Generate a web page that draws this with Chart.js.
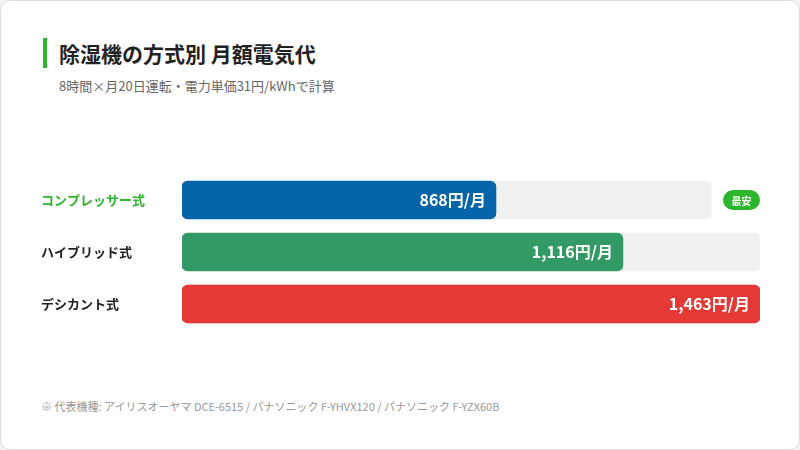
<!DOCTYPE html>
<html><head><meta charset="utf-8">
<script src="https://cdn.jsdelivr.net/npm/chart.js@4/dist/chart.umd.min.js"></script>
<style>
body{margin:0;background:#f3f3f3;font-family:"Noto Sans CJK JP","Noto Sans",sans-serif;}
.card{position:absolute;left:0;top:0;width:798px;height:448px;background:#fff;border:1px solid #ddd;border-radius:10px;}
.title{position:absolute;left:42px;top:37px;border-left:4px solid #2db52d;padding-left:12px;font-size:21px;font-weight:bold;color:#222;line-height:30px;}
.sub{position:absolute;left:58px;top:75px;font-size:13px;color:#666;}
.note{position:absolute;left:40px;top:397px;font-size:11px;color:#999;}
#wrap{position:absolute;left:0;top:173px;width:800px;height:156px;}
</style></head><body>
<div class="card">
<div class="title">除湿機の方式別 月額電気代</div>
<div class="sub">8時間×月20日運転・電力単価31円/kWhで計算</div>
<div class="note">※ 代表機種: アイリスオーヤマ DCE-6515 / パナソニック F-YHVX120 / パナソニック F-YZX60B</div>
<div id="wrap"><canvas id="c"></canvas></div>
</div>
<script>
const categories = ['コンプレッサー式', 'ハイブリッド式', 'デシカント式'];
const costs = [868, 1116, 1463];
const valueLabels = ['868円/月', '1,116円/月', '1,463円/月'];
const barColors = ['#0565a8', '#339a66', '#e53935'];
const labelColors = ['#2db52d', '#222', '#222'];
const maxCost = 1463;
const firstRowMax = 1598; // first track is shortened to leave room for the badge

const labelsPlugin = {
  id: 'labels',
  afterDatasetsDraw(chart) {
    const ctx = chart.ctx, y = chart.scales.y;
    ctx.save();
    ctx.textBaseline = 'middle';
    categories.forEach((c, i) => {
      const yc = y.getPixelForValue(i);
      ctx.font = 'bold 13px "Noto Sans CJK JP"';
      ctx.fillStyle = labelColors[i];
      ctx.textAlign = 'left';
      ctx.fillText(c, 40, yc);
      const sc = i === 0 ? chart.scales.x2 : chart.scales.x;
      const xe = sc.getPixelForValue(costs[i]);
      ctx.font = 'bold 16px "Noto Sans CJK JP"';
      ctx.fillStyle = '#fff';
      ctx.textAlign = 'right';
      ctx.fillText(valueLabels[i], xe - 10, yc);
    });
    // badge
    const yc = y.getPixelForValue(0);
    const bx = 722, bw = 37, bh = 20;
    ctx.fillStyle = '#2db52d';
    ctx.beginPath();
    ctx.roundRect(bx, yc - bh / 2, bw, bh, 10);
    ctx.fill();
    ctx.fillStyle = '#fff';
    ctx.font = 'bold 10px "Noto Sans CJK JP"';
    ctx.textAlign = 'center';
    ctx.fillText('最安', bx + bw / 2, yc + 1);
    ctx.restore();
  }
};

new Chart(document.getElementById('c'), {
  type: 'bar',
  data: {
    labels: categories,
    datasets: [
      { data: [costs[0], null, null], xAxisID: 'x2', backgroundColor: barColors[0], grouped: false, order: 1 },
      { data: [null, costs[1], costs[2]], xAxisID: 'x', backgroundColor: barColors, grouped: false, order: 1 },
      { data: [maxCost, null, null], xAxisID: 'x2', backgroundColor: '#f0f0f0', grouped: false, order: 2 },
      { data: [null, maxCost, maxCost], xAxisID: 'x', backgroundColor: '#f0f0f0', grouped: false, order: 2 }
    ]
  },
  options: {
    indexAxis: 'y',
    responsive: true, maintainAspectRatio: false, animation: false,
    layout: { padding: { left: 181, right: 41, top: 0, bottom: 0 } },
    datasets: { bar: { barThickness: 38, borderRadius: 6, borderSkipped: false } },
    scales: {
      x: { min: 0, max: maxCost, display: false },
      x2: { min: 0, max: firstRowMax, display: false },
      y: { display: false }
    },
    plugins: { legend: { display: false }, tooltip: { enabled: false } }
  },
  plugins: [labelsPlugin]
});
</script>
</body></html>
